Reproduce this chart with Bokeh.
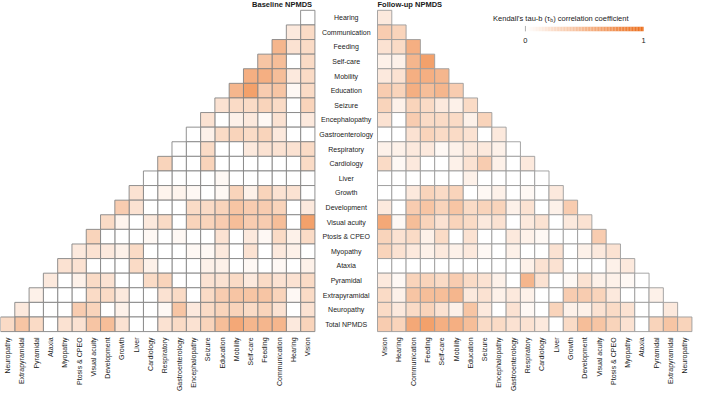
import numpy as np
from bokeh.plotting import figure
from bokeh.models import ColumnDataSource, LinearColorMapper, Range1d
from bokeh.transform import transform
from bokeh.core.properties import value
from bokeh.embed import file_html
from bokeh.resources import INLINE

# ---------------- data ----------------
variables = ["Vision", "Hearing", "Communication", "Feeding", "Self-care", "Mobility",
             "Education", "Seizure", "Encephalopathy", "Gastroenterology", "Respiratory",
             "Cardiology", "Liver", "Growth", "Development", "Visual acuity", "Ptosis & CPEO",
             "Myopathy", "Ataxia", "Pyramidal", "Extrapyramidal", "Neuropathy", "Total NPMDS"]

# lower-triangle rows: row i (Hearing ... Total NPMDS) vs variables[0 .. i-1]
baseline = [
    [0.0],
    [0.25, 0.15],
    [0.25, 0.2, 0.5],
    [0.25, 0.0, 0.45, 0.4],
    [0.25, 0.15, 0.45, 0.55, 0.55],
    [0.25, 0.05, 0.4, 0.35, 0.65, 0.5],
    [0.3, 0.0, 0.25, 0.3, 0.25, 0.25, 0.2],
    [0.15, 0.0, 0.2, 0.05, 0.15, 0.1, 0.0, 0.2],
    [0.0, 0.0, 0.15, 0.3, 0.25, 0.3, 0.25, 0.1, 0.0],
    [0.25, 0.2, 0.2, 0.2, 0.15, 0.0, 0.0, 0.25, 0.0, 0.0],
    [0.25, 0.0, 0.0, 0.0, 0.0, 0.0, 0.0, 0.3, 0.0, 0.0, 0.3],
    [0.0, 0.0, 0.0, 0.0, 0.0, 0.0, 0.05, 0.0, 0.0, 0.0, 0.0, 0.0],
    [0.0, 0.2, 0.2, 0.3, 0.1, 0.3, 0.05, 0.0, 0.05, 0.08, 0.08, 0.0, 0.2],
    [0.15, 0.0, 0.3, 0.35, 0.35, 0.4, 0.3, 0.25, 0.25, 0.0, 0.0, 0.0, 0.2, 0.35],
    [0.65, 0.0, 0.45, 0.35, 0.35, 0.45, 0.35, 0.3, 0.3, 0.0, 0.25, 0.15, 0.0, 0.08, 0.25],
    [0.25, 0.1, 0.25, 0.05, 0.15, 0.0, 0.2, 0.0, 0.0, 0.05, 0.0, 0.05, 0.0, 0.0, 0.0, 0.3],
    [0.0, 0.1, 0.15, 0.0, 0.2, 0.0, 0.15, 0.05, 0.05, 0.0, 0.0, 0.0, 0.25, 0.1, 0.15, 0.2, 0.15],
    [0.1, 0.0, 0.05, 0.0, 0.05, 0.0, 0.1, 0.1, 0.0, 0.0, 0.0, 0.1, 0.25, 0.0, 0.0, 0.0, 0.2, 0.2],
    [0.25, 0.2, 0.2, 0.25, 0.15, 0.25, 0.2, 0.2, 0.0, 0.0, 0.3, 0.25, 0.0, 0.0, 0.2, 0.25, 0.1, 0.0, 0.15],
    [0.25, 0.05, 0.3, 0.4, 0.4, 0.4, 0.35, 0.25, 0.0, 0.25, 0.2, 0.0, 0.0, 0.15, 0.25, 0.25, 0.0, 0.0, 0.0, 0.1],
    [0.2, 0.0, 0.2, 0.3, 0.25, 0.3, 0.3, 0.25, 0.15, 0.4, 0.05, 0.0, 0.0, 0.1, 0.0, 0.3, 0.35, 0.0, 0.0, 0.0, 0.15],
    [0.3, 0.15, 0.5, 0.5, 0.5, 0.6, 0.45, 0.3, 0.2, 0.25, 0.2, 0.0, 0.0, 0.2, 0.45, 0.4, 0.2, 0.2, 0.0, 0.25, 0.4, 0.25],
]

followup = [
    [0.15],
    [0.35, 0.3],
    [0.2, 0.25, 0.55],
    [0.1, 0.1, 0.5, 0.65],
    [0.15, 0.2, 0.55, 0.55, 0.5],
    [0.35, 0.3, 0.55, 0.45, 0.5, 0.35],
    [0.3, 0.1, 0.3, 0.25, 0.15, 0.1, 0.25],
    [0.2, 0.0, 0.35, 0.25, 0.25, 0.25, 0.1, 0.3],
    [0.0, 0.0, 0.2, 0.3, 0.25, 0.25, 0.2, 0.0, 0.15],
    [0.1, 0.1, 0.15, 0.15, 0.05, 0.1, 0.15, 0.15, 0.1, 0.0],
    [0.25, 0.05, 0.15, 0.0, 0.0, 0.1, 0.2, 0.35, 0.1, 0.0, 0.15],
    [0.0, 0.0, 0.0, 0.0, 0.0, 0.0, 0.1, 0.0, 0.0, 0.0, 0.0, 0.0],
    [0.0, 0.0, 0.15, 0.3, 0.25, 0.3, 0.0, 0.05, 0.1, 0.0, 0.05, 0.0, 0.15],
    [0.15, 0.0, 0.35, 0.4, 0.3, 0.4, 0.25, 0.3, 0.3, 0.1, 0.2, 0.0, 0.1, 0.35],
    [0.6, 0.05, 0.45, 0.3, 0.2, 0.3, 0.25, 0.15, 0.2, 0.0, 0.15, 0.2, 0.0, 0.15, 0.2],
    [0.3, 0.2, 0.25, 0.1, 0.25, 0.0, 0.2, 0.0, 0.0, 0.15, 0.1, 0.05, 0.0, 0.0, 0.0, 0.35],
    [0.3, 0.2, 0.15, 0.1, 0.15, 0.1, 0.15, 0.05, 0.0, 0.1, 0.0, 0.0, 0.2, 0.0, 0.1, 0.15, 0.2],
    [0.0, 0.0, 0.0, 0.0, 0.0, 0.0, 0.0, 0.0, 0.0, 0.0, 0.1, 0.2, 0.2, 0.0, 0.0, 0.0, 0.1, 0.15],
    [0.15, 0.05, 0.3, 0.3, 0.25, 0.35, 0.25, 0.2, 0.1, 0.0, 0.5, 0.2, 0.0, 0.05, 0.2, 0.1, 0.1, 0.05, 0.0],
    [0.25, 0.1, 0.4, 0.45, 0.45, 0.5, 0.15, 0.2, 0.1, 0.15, 0.1, 0.0, 0.0, 0.35, 0.35, 0.3, 0.15, 0.0, 0.0, 0.1],
    [0.25, 0.15, 0.25, 0.3, 0.2, 0.1, 0.4, 0.15, 0.0, 0.2, 0.05, 0.0, 0.3, 0.1, 0.1, 0.2, 0.25, 0.2, 0.0, 0.0, 0.15],
    [0.35, 0.3, 0.6, 0.65, 0.55, 0.55, 0.45, 0.25, 0.25, 0.2, 0.2, 0.15, 0.0, 0.25, 0.45, 0.4, 0.3, 0.2, 0.0, 0.3, 0.4, 0.3],
]

panel_titles = ["Baseline NPMDS", "Follow-up NPMDS"]
legend_ticks = [0, 1]
legend_title_parts = ["Kendall's tau-b (\u03c4", "b", ") correlation coefficient"]

# ---------------- styling ----------------
GAP = 4.38          # gap (in cell units) between the two triangles for row labels
FONT = "Liberation Sans"
TXT = "#1a1a1a"
LO, HI = "#FFFFFF", "#EC6E1C"


def lerp_hex(a, b, t):
    a = [int(a[i:i + 2], 16) for i in (1, 3, 5)]
    b = [int(b[i:i + 2], 16) for i in (1, 3, 5)]
    return "#%02x%02x%02x" % tuple(round(a[k] + (b[k] - a[k]) * t) for k in range(3))


palette = [lerp_hex(LO, HI, i / 255) for i in range(256)]
mapper = LinearColorMapper(palette=palette, low=0, high=1)

n = len(variables) - 1  # 22

p = figure(width=693, height=393, output_backend="svg", toolbar_location=None,
           x_range=Range1d(-22.0, 26.49), y_range=Range1d(-26.24, 0.673),
           x_axis_location=None, y_axis_location=None, min_border=0,
           outline_line_color=None)
p.xgrid.visible = False
p.ygrid.visible = False


def cell_source(rows, side):
    xs, ys, vs = [], [], []
    for r, row in enumerate(rows, start=1):
        for c, v in enumerate(row):
            xs.append(-(c + 0.5) if side == "left" else GAP + c + 0.5)
            ys.append(-(r - 0.5))
            vs.append(v)
    return ColumnDataSource(dict(x=xs, y=ys, v=vs))


p.rect("x", "y", width=1, height=1, source=cell_source(baseline, "left"),
       fill_color=transform("v", mapper), line_color="#858585", line_width=0.9)
p.rect("x", "y", width=1, height=1, source=cell_source(followup, "right"),
       fill_color=transform("v", mapper), line_color="#9c9c9c", line_width=0.9)

# row labels (centre column)
row_src = ColumnDataSource(dict(x=[GAP / 2] * n, y=[-(r - 0.5) for r in range(1, n + 1)],
                                t=variables[1:]))
p.text("x", "y", text="t", source=row_src, text_align="center", text_baseline="middle",
       text_font=value(FONT), text_font_size="7px", text_color=TXT)

# bottom labels
bl = ColumnDataSource(dict(x=[-(c + 0.5) for c in range(n)] + [GAP + c + 0.5 for c in range(n)],
                           y=[-n - 0.4] * (2 * n), t=variables[:n] + variables[:n]))
p.text("x", "y", text="t", source=bl, angle=np.pi / 2, text_align="right",
       text_baseline="middle", text_font=value(FONT), text_font_size="7px", text_color=TXT)

# panel titles
p.text(x=[-0.2], y=[0.38], text=[panel_titles[0]], text_align="right", text_baseline="middle",
       text_font=value(FONT), text_font_size="7.5px", text_font_style="bold", text_color=TXT)
p.text(x=[GAP], y=[0.38], text=[panel_titles[1]], text_align="left", text_baseline="middle",
       text_font=value(FONT), text_font_size="7.5px", text_font_style="bold", text_color=TXT)

# colour legend
lx0, lx1 = 14.73, 23.0
ly0, ly1 = -1.44, -1.12
nseg = 80
edges = np.linspace(lx0, lx1, nseg + 1)
leg = ColumnDataSource(dict(left=edges[:-1], right=edges[1:],
                            v=np.linspace(0, 1, nseg)))
p.quad(left="left", right="right", bottom=ly0, top=ly1, source=leg,
       fill_color=transform("v", mapper), line_color=None)
tick_x = [lx0 + (lx1 - lx0) * t for t in legend_ticks]
p.segment(x0=tick_x[:1], x1=tick_x[:1], y0=[ly0], y1=[ly1 + 0.05], line_color="#9a9a9a", line_width=0.8)
p.text(x=tick_x, y=[-2.05] * len(tick_x), text=[str(t) for t in legend_ticks],
       text_align="center", text_baseline="middle", text_font=value(FONT),
       text_font_size="7.5px", text_color=TXT)

sub_x = 16.45
p.text(x=[sub_x], y=[-0.56], text=[legend_title_parts[0]], text_align="right",
       text_baseline="middle", text_font=value(FONT), text_font_size="7.5px", text_color=TXT)
p.text(x=[sub_x + 0.02], y=[-0.66], text=[legend_title_parts[1]], text_align="left",
       text_baseline="middle", text_font=value(FONT), text_font_size="5px", text_color=TXT)
p.text(x=[sub_x + 0.22], y=[-0.56], text=[legend_title_parts[2]], text_align="left",
       text_baseline="middle", text_font=value(FONT), text_font_size="7.5px", text_color=TXT)

open("out.html", "w").write(file_html(p, INLINE))
